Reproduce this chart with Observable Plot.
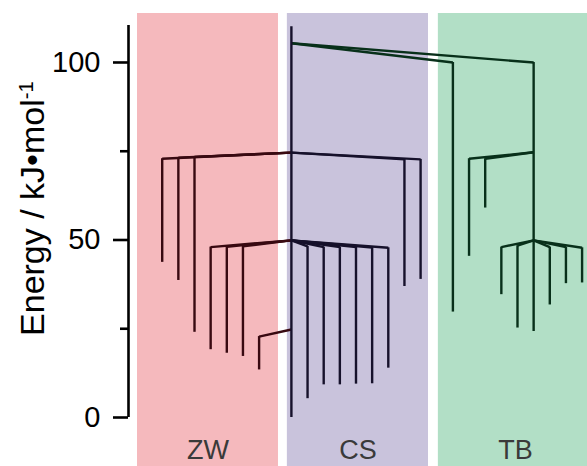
<!DOCTYPE html>
<html><head><meta charset="utf-8">
<script src="https://cdn.jsdelivr.net/npm/d3@7"></script>
<script src="https://cdn.jsdelivr.net/npm/@observablehq/plot@0.6"></script>
<style>body{margin:0;background:#fff}</style>
</head><body><div id="chart"></div>
<script>
// Groups (background regions)
const groups = ["ZW", "CS", "TB"];
const bandStart = [-1.53, 7.75, 17.1];   // in leaf-order units
const bandEnd = [7.2, 16.49, 26.66];
const bandFill = ["#f5b9bd", "#c9c3dc", "#b2dfc6"];
const lineColor = {ZW: "#380911", CS: "#16112b", TB: "#08301a"};

// Leaves of the disconnectivity graph (order index, group, branch top energy, minimum energy, parent node)
const leafPos   = [0, 1, 2, 3, 4, 5, 6,   8, 9, 10, 11, 12, 13, 14, 15, 16,   18, 19, 20, 21, 22, 23, 24, 25, 26];
const leafGroup = ["ZW","ZW","ZW","ZW","ZW","ZW","ZW", "CS","CS","CS","CS","CS","CS","CS","CS","CS", "TB","TB","TB","TB","TB","TB","TB","TB","TB"];
const leafTop   = [72.9, 73.2, 73.4, 48.0, 48.1, 48.2, 22.8,   110.1, 48.2, 48.0, 48.0, 48.0, 47.9, 47.8, 72.7, 72.7,   100, 72.9, 72.9, 48.0, 48.4, 100, 48.0, 48.0, 47.8];
const leafMin   = [43.7, 38.6, 24.0, 19.1, 18.1, 17.2, 13.4,   0, 5.3, 9.2, 9.2, 9.4, 9.5, 13.9, 36.9, 38.9,   29.7, 45.4, 59.0, 34.6, 25.2, 24.2, 31.7, 37.7, 37.9];
const parentPos = [8, 8, 8, 8, 8, 8, 8,   null, 8, 8, 8, 8, 8, 8, 8, 8,   8, 23, 23, 23, 23, 8, 23, 23, 23];
const parentE   = [74.6, 74.6, 74.6, 49.9, 49.9, 49.9, 24.8,   null, 49.9, 49.9, 49.9, 49.9, 49.9, 49.9, 74.6, 74.6,   105.4, 74.7, 74.7, 49.9, 49.9, 105.4, 49.9, 49.9, 49.9];

// Axis
const majorTicks = [0, 50, 100];
const minorTicks = [25, 75];
const axisExtent = [0, 110.4];
const yDomain = [-13.8, 117.46];
const xDomain = [-2.087, 26.335];
const yLabel = "Energy / kJ\u2022mol";
const yLabelSup = "-1";
const bandLabelE = -9.3;

const leaves = leafPos.map((p, i) => ({pos: p, group: leafGroup[i], top: leafTop[i], min: leafMin[i], ppos: parentPos[i], pe: parentE[i], color: lineColor[leafGroup[i]]}));
const links = leaves.filter(d => d.ppos != null);
const bands = groups.map((g, i) => ({group: g, x1: bandStart[i], x2: bandEnd[i], mid: (bandStart[i] + bandEnd[i]) / 2, fill: bandFill[i]}));

const chart = Plot.plot({
  width: 587, height: 466,
  marginLeft: 128, marginRight: 0, marginTop: 0, marginBottom: 0,
  style: {fontFamily: "'Liberation Sans', Arial, sans-serif", background: "#fff", color: "#000"},
  x: {domain: xDomain, axis: null},
  y: {domain: yDomain, axis: null},
  color: {type: "identity"},
  marks: [
    Plot.rect(bands, {x1: "x1", x2: "x2", y1: yDomain[0], y2: 113.8, fill: "fill", clip: true}),
    Plot.link(links, {x1: "ppos", y1: "pe", x2: "pos", y2: "top", stroke: "color", strokeWidth: 2.4}),
    Plot.ruleX(leaves, {x: "pos", y1: "min", y2: "top", stroke: "color", strokeWidth: 2.4}),
    Plot.ruleX([xDomain[0]], {y1: axisExtent[0], y2: axisExtent[1], stroke: "#000", strokeWidth: 2.6}),
    Plot.axisY({ticks: majorTicks, tickSize: 15, text: null, label: null, strokeWidth: 2.6}),
    Plot.axisY({ticks: minorTicks, tickSize: 8, text: null, label: null, strokeWidth: 2.6}),
    Plot.text(majorTicks, {x: xDomain[0], y: d => d, text: d => String(d), dx: -28, textAnchor: "end", lineAnchor: "middle", fontSize: 29, fill: "#000"}),
    Plot.text(bands, {x: "mid", y: bandLabelE, text: "group", lineAnchor: "middle", fontSize: 27, fill: "#3a3a3a"}),
    Plot.text([yLabel], {frameAnchor: "left", dx: -95, dy: -25, rotate: -90, fontSize: 34, textAnchor: "middle", lineAnchor: "middle", fill: "#000"})
  ]
});

d3.select(chart).selectAll("text").filter(function() { return this.textContent === yLabel; })
  .append("tspan").attr("baseline-shift", "super").attr("font-size", "60%").text(yLabelSup);

document.getElementById("chart").appendChild(chart);
</script>
</body></html>
